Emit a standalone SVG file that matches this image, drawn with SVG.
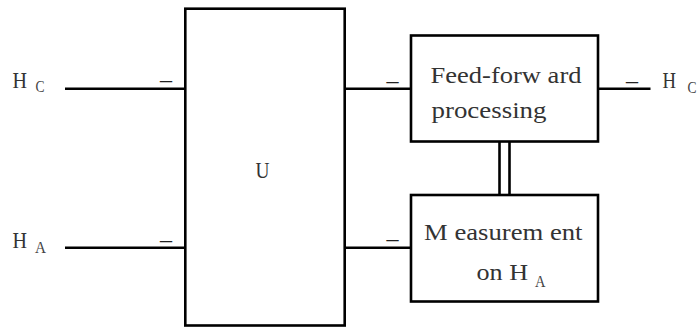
<svg xmlns="http://www.w3.org/2000/svg" width="698" height="328" viewBox="0 0 698 328">
<style>
.box{fill:#fff;stroke:#000;stroke-width:2.6}
.wire{stroke:#000;stroke-width:2.6;fill:none}
.t{font-family:"Liberation Serif","Times New Roman",serif;font-size:22.5px;fill:#333}
.s{font-family:"Liberation Serif","Times New Roman",serif;font-size:16px;fill:#444}
.d{font-family:"Liberation Serif","Times New Roman",serif;font-size:24px;fill:#222}
</style>
<rect width="698" height="328" fill="#fff"/>
<g id="connectors">
<line class="wire" x1="65" y1="88.8" x2="185.3" y2="88.8"/>
<line class="wire" x1="65" y1="247.8" x2="185.3" y2="247.8"/>
<line class="wire" x1="344.7" y1="88.8" x2="411" y2="88.8"/>
<line class="wire" x1="344.7" y1="247.8" x2="411" y2="247.8"/>
<line class="wire" x1="598" y1="88.8" x2="650.5" y2="88.8"/>
<line class="wire" x1="499.5" y1="141.5" x2="499.5" y2="195"/>
<line class="wire" x1="509.5" y1="141.5" x2="509.5" y2="195"/>
<text class="d" x="160" y="87">–</text>
<text class="d" x="160" y="247">–</text>
<text class="d" x="386.5" y="87.5">–</text>
<text class="d" x="386.5" y="245.5">–</text>
<text class="d" x="626" y="87.5">–</text>
</g>
<g id="label-hc-in">
<text class="t" x="12.5" y="88.3" textLength="14.5" lengthAdjust="spacingAndGlyphs">H</text>
<text class="s" x="35.5" y="91.7" textLength="9" lengthAdjust="spacingAndGlyphs">C</text>
</g>
<g id="label-ha-in">
<text class="t" x="12.5" y="247.7" textLength="14.5" lengthAdjust="spacingAndGlyphs">H</text>
<text class="s" x="35" y="253.3" textLength="11" lengthAdjust="spacingAndGlyphs">A</text>
</g>
<g id="node-u">
<rect class="box" x="185.3" y="8.7" width="159.4" height="316.8"/>
<text class="t" x="255.5" y="178.3" textLength="14" lengthAdjust="spacingAndGlyphs">U</text>
</g>
<g id="node-feedforward">
<rect class="box" x="411" y="35.5" width="187" height="106"/>
<text class="t" x="430.5" y="82.7" textLength="151" lengthAdjust="spacingAndGlyphs">Feed-forw ard</text>
<text class="t" x="431.5" y="118.3" textLength="115" lengthAdjust="spacingAndGlyphs">processing</text>
</g>
<g id="node-measurement">
<rect class="box" x="411" y="195" width="187" height="106.5"/>
<text class="t" x="424" y="240" textLength="158.5" lengthAdjust="spacingAndGlyphs">M easurem ent</text>
<text class="t" x="476.5" y="280" textLength="51.5" lengthAdjust="spacingAndGlyphs">on H</text>
<text class="s" x="535" y="286.7" textLength="10.5" lengthAdjust="spacingAndGlyphs">A</text>
</g>
<g id="label-hc-out">
<text class="t" x="662.5" y="88.3" textLength="13.5" lengthAdjust="spacingAndGlyphs">H</text>
<text class="s" x="687.5" y="93.3" textLength="9" lengthAdjust="spacingAndGlyphs">C</text>
</g>
</svg>
